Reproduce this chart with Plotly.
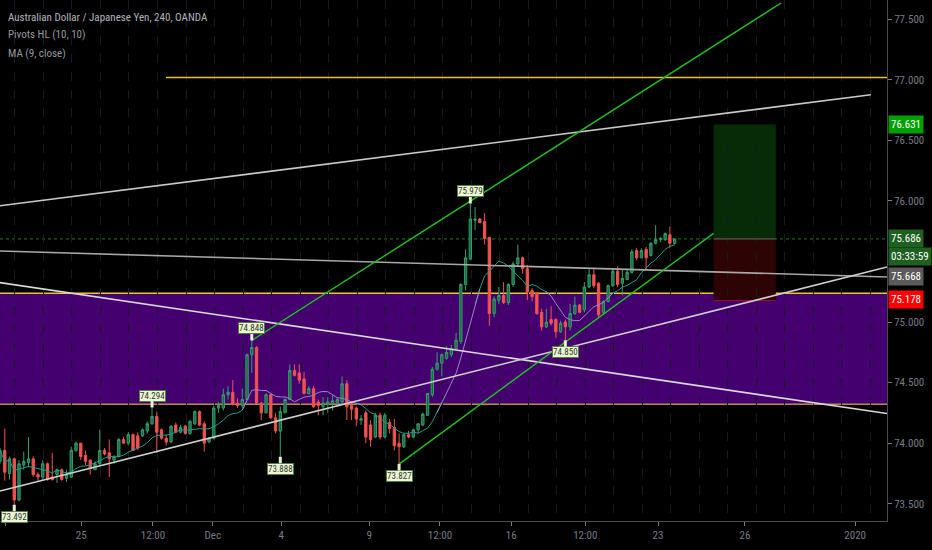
import plotly.graph_objects as go
import pandas as pd

# ---------------- data (4h bars, AUD/JPY) ----------------
OPEN = [73.85,73.94,73.75,73.87,73.53,73.82,73.84,73.87,73.74,73.72,73.83,73.72,73.74,73.78,73.71,73.72,73.94,74.00,73.90,73.86,
        73.78,73.83,73.94,73.92,73.86,73.89,74.03,74.00,74.07,74.06,74.06,74.10,74.16,74.22,74.11,74.04,74.01,74.15,74.09,74.14,
        74.08,74.16,74.26,74.16,74.01,74.04,74.29,74.29,74.40,74.42,74.33,74.31,74.36,74.73,74.79,74.33,74.25,74.40,74.21,74.10,
        74.25,74.36,74.60,74.58,74.53,74.41,74.45,74.34,74.30,74.32,74.33,74.33,74.34,74.49,74.31,74.29,74.19,74.25,74.15,74.05,
        74.23,74.05,74.17,74.13,74.00,73.97,74.07,74.05,74.11,74.15,74.23,74.40,74.61,74.66,74.70,74.73,74.78,74.84,75.31,75.52,
        75.84,75.85,75.83,75.70,75.07,75.18,75.22,75.16,75.31,75.48,75.53,75.44,75.26,75.24,75.08,74.96,75.02,75.02,74.92,75.00,
        74.96,75.07,75.14,75.10,75.29,75.39,75.32,75.08,75.17,75.30,75.42,75.32,75.35,75.41,75.59,75.53,75.60,75.55,75.65,75.68,
        75.68,75.72,75.65]
HIGH = [73.96,74.12,73.89,73.88,73.86,73.93,74.05,73.89,73.76,73.86,73.84,73.92,73.79,73.79,73.78,73.97,74.01,74.00,73.94,73.86,
        73.85,74.11,73.96,74.03,73.90,74.04,74.05,74.09,74.08,74.09,74.12,74.18,74.294,74.26,74.12,74.07,74.15,74.17,74.15,74.15,
        74.19,74.27,74.27,74.18,74.05,74.31,74.34,74.45,74.47,74.52,74.37,74.45,74.74,74.848,74.80,74.34,74.41,74.41,74.25,74.30,
        74.37,74.65,74.65,74.65,74.59,74.47,74.47,74.36,74.38,74.38,74.40,74.38,74.55,74.52,74.33,74.30,74.23,74.27,74.19,74.25,
        74.25,74.25,74.20,74.20,74.08,74.08,74.10,74.12,74.16,74.25,74.41,74.63,74.75,74.74,74.80,74.81,74.91,75.32,75.60,75.979,
        75.95,75.86,75.90,75.70,75.21,75.29,75.33,75.32,75.50,75.64,75.54,75.47,75.28,75.25,75.11,75.11,75.13,75.03,75.01,75.02,
        75.15,75.21,75.15,75.33,75.44,75.44,75.33,75.18,75.31,75.44,75.46,75.43,75.43,75.60,75.61,75.61,75.62,75.66,75.80,75.70,
        75.74,75.79,75.69]
LOW = [73.83,73.69,73.70,73.492,73.52,73.78,73.80,73.72,73.69,73.69,73.69,73.69,73.67,73.69,73.68,73.71,73.93,73.86,73.82,73.74,
       73.78,73.82,73.90,73.72,73.83,73.88,74.00,73.98,73.94,73.94,74.05,74.08,74.15,73.92,74.03,73.98,74.00,74.08,74.08,74.07,
       74.07,74.15,74.14,73.93,74.00,74.03,74.25,74.27,74.36,74.31,74.29,74.29,74.36,74.58,74.33,74.19,74.25,74.20,74.08,73.888,
       74.25,74.36,74.55,74.49,74.40,74.40,74.29,74.23,74.23,74.25,74.27,74.30,74.33,74.19,74.19,74.14,74.15,74.00,73.97,74.04,
       74.03,74.04,74.08,73.94,73.827,73.96,74.04,74.04,74.08,74.14,74.23,74.38,74.60,74.55,74.69,74.71,74.77,74.82,75.26,75.51,
       75.76,75.82,75.64,74.97,75.04,75.15,75.15,75.14,75.29,75.46,75.40,75.18,75.17,75.06,74.93,74.95,74.97,74.87,74.91,74.85,
       74.93,75.06,75.08,75.08,75.28,75.28,75.04,75.06,75.16,75.29,75.29,75.22,75.35,75.40,75.51,75.53,75.43,75.54,75.64,75.66,
       75.67,75.61,75.64]
CLOSE = [73.94,73.76,73.87,73.53,73.83,73.85,73.87,73.74,73.72,73.83,73.70,73.70,73.78,73.70,73.74,73.94,74.00,73.89,73.85,73.79,
         73.83,73.94,73.91,73.87,73.89,74.03,74.00,74.07,73.94,73.96,74.11,74.16,74.22,74.09,74.04,74.01,74.14,74.09,74.13,74.08,
         74.18,74.26,74.15,74.00,74.04,74.29,74.31,74.40,74.42,74.32,74.31,74.36,74.73,74.79,74.33,74.25,74.40,74.21,74.10,74.26,
         74.36,74.60,74.56,74.52,74.41,74.45,74.30,74.31,74.33,74.34,74.35,74.36,74.49,74.30,74.28,74.20,74.20,74.05,74.03,74.23,
         74.05,74.23,74.12,73.98,73.97,74.07,74.05,74.11,74.16,74.24,74.41,74.61,74.66,74.73,74.75,74.78,74.85,75.31,75.53,75.85,
         75.85,75.82,75.69,75.07,75.19,75.22,75.16,75.31,75.48,75.53,75.44,75.25,75.21,75.07,74.96,75.00,74.99,74.92,74.99,74.96,
         75.07,75.14,75.08,75.29,75.39,75.30,75.06,75.17,75.30,75.42,75.31,75.36,75.41,75.58,75.53,75.59,75.53,75.65,75.68,75.69,
         75.73,75.65,75.686]
BARS = list(range(len(CLOSE)))

XTICK_POS = [1.1, 17.1, 32.2, 44.8, 59.2, 77.7, 92.6, 107.6, 123.2, 138.5, 156.8, 180.0]
XTICK_TEXT = ["12:00", "25", "12:00", "Dec", "4", "9", "12:00", "16", "12:00", "23", "26", "2020"]
YTICKS = [73.5, 74.0, 74.5, 75.0, 76.0, 76.5, 77.0, 77.5]

PIVOT_BARS = [3, 32, 53, 59, 84, 99, 119]
PIVOT_PRICES = [73.492, 74.294, 74.848, 73.888, 73.827, 75.979, 74.850]
PIVOT_KIND = ["L", "H", "H", "L", "L", "H", "L"]

ZONE_LO, ZONE_HI = 74.32, 75.237
RESIST = 77.02
TARGET, ENTRY, STOP = 76.631, 75.686, 75.178
MA_LAST = 75.668
COUNTDOWN = "03:33:59"

# trend lines: (bar0, price0, bar1, price1)
WHITE_LINES = [(0, 75.96, 183.3, 76.877), (0, 75.586, 186.7, 75.372),
               (0, 75.325, 186.7, 74.244), (0, 73.605, 186.7, 75.454)]
GREEN_LINES = [(53, 74.848, 164.4, 77.634), (84, 73.827, 150.2, 75.732)]
POS_X = (150.2, 163.3)

X_RANGE = [0, 186.7]
Y_RANGE = [73.357, 77.659]

FONT = "Liberation Sans Narrow, Roboto Condensed, DejaVu Sans Condensed, Roboto, sans-serif"
BG = "#000000"
UP_FILL, UP_LINE = "#1a6644", "#33a06c"
DN = "#ef5350"

fig = go.Figure()

fig.add_trace(go.Candlestick(
    x=BARS, open=OPEN, high=HIGH, low=LOW, close=CLOSE,
    increasing=dict(fillcolor=UP_FILL, line=dict(color=UP_LINE, width=1)),
    decreasing=dict(fillcolor=DN, line=dict(color=DN, width=1)),
    whiskerwidth=0, hoverinfo="skip", showlegend=False))

# MA(9, close)
ma = pd.Series(CLOSE).rolling(9, min_periods=1).mean().tolist()
inside = [ZONE_LO <= v <= ZONE_HI for v in ma]
n = len(ma)
def nb(i, cond):
    return any(cond(j) for j in (i - 1, i, i + 1) if 0 <= j < n)
teal_y = [ma[i] if nb(i, lambda j: not inside[j]) else None for i in range(n)]
lil_y = [ma[i] if nb(i, lambda j: inside[j]) else None for i in range(n)]
fig.add_trace(go.Scatter(x=BARS, y=teal_y, mode="lines", line=dict(color="#1f9e90", width=1),
                         hoverinfo="skip", showlegend=False, connectgaps=False))
fig.add_trace(go.Scatter(x=BARS, y=lil_y, mode="lines", line=dict(color="#9a86c4", width=1),
                         hoverinfo="skip", showlegend=False, connectgaps=False))

shapes = []
# zone
shapes.append(dict(type="rect", xref="paper", yref="y", x0=0, x1=1, y0=ZONE_LO, y1=ZONE_HI,
                   fillcolor="#44006f", line=dict(width=0), layer="below"))
shapes.append(dict(type="line", xref="paper", yref="y", x0=0, x1=1, y0=ZONE_HI, y1=ZONE_HI,
                   line=dict(color="#e8c23a", width=1.5), layer="below"))
shapes.append(dict(type="line", xref="paper", yref="y", x0=0, x1=1, y0=ZONE_LO, y1=ZONE_LO,
                   line=dict(color="#b98a4e", width=1.5), layer="below"))
# resistance
shapes.append(dict(type="line", xref="x", yref="y", x0=166 / 4.75, x1=X_RANGE[1], y0=RESIST, y1=RESIST,
                   line=dict(color="#f0c419", width=1.5)))
# current price dotted
shapes.append(dict(type="line", xref="paper", yref="y", x0=0, x1=1, y0=ENTRY, y1=ENTRY,
                   line=dict(color="#1f7a1f", width=1, dash="dot"), layer="below"))
# position tool
shapes.append(dict(type="rect", xref="x", yref="y", x0=POS_X[0], x1=POS_X[1], y0=ENTRY, y1=TARGET,
                   fillcolor="#072a07", line=dict(width=0), layer="below"))
shapes.append(dict(type="rect", xref="x", yref="y", x0=POS_X[0], x1=POS_X[1], y0=STOP, y1=ENTRY,
                   fillcolor="#2e0303", line=dict(width=0), layer="below"))
shapes.append(dict(type="line", xref="x", yref="y", x0=POS_X[0], x1=POS_X[1], y0=ENTRY, y1=ENTRY,
                   line=dict(color="#6a6a6a", width=1)))
shapes.append(dict(type="line", xref="x", yref="y", x0=POS_X[0], x1=POS_X[1], y0=STOP, y1=STOP,
                   line=dict(color="#a01030", width=1)))
for (a0, p0, a1, p1), col in zip(WHITE_LINES, ["#c8c8c8", "#a8a8a8", "#d8d8d8", "#d0d0d0"]):
    shapes.append(dict(type="line", xref="x", yref="y", x0=a0, y0=p0, x1=a1, y1=p1,
                       line=dict(color=col, width=1.6)))
for a0, p0, a1, p1 in GREEN_LINES:
    shapes.append(dict(type="line", xref="x", yref="y", x0=a0, y0=p0, x1=a1, y1=p1,
                       line=dict(color="#22c322", width=1.4)))

ann = []
# title / legend text
for txt, ypx, col in [("Australian Dollar / Japanese Yen, 240, OANDA", 17, "#b2b5be"),
                      ("Pivots HL (10, 10)", 35, "#9598a1"),
                      ("MA (9, close)", 53, "#9598a1")]:
    ann.append(dict(text=txt, xref="paper", yref="paper", x=6 / 887, y=1 - ypx / 521,
                    xanchor="left", yanchor="middle", showarrow=False,
                    font=dict(family=FONT, size=11, color=col)))
# pivot labels
for b, p, k in zip(PIVOT_BARS, PIVOT_PRICES, PIVOT_KIND):
    ann.append(dict(text=f"{p:.3f}", x=b, y=p, xref="x", yref="y", showarrow=True,
                    ax=0, ay=-12 if k == "H" else 12, arrowhead=0, arrowwidth=3,
                    arrowcolor="#e6efcf", bgcolor="#eef5d8", bordercolor="#4f7f3a",
                    borderwidth=1, borderpad=0,
                    font=dict(family=FONT, size=9, color="#2a3a20")))
# right scale labels
for txt, yv, bg in [(f"{TARGET:.3f}", TARGET, "#00a000"),
                    (f"{ENTRY:.3f}", 75.691, "#1f5f1f"),
                    (COUNTDOWN, 75.537, "#1f5f1f"),
                    (f"{MA_LAST:.3f}", 75.38, "#5a5a5a"),
                    (f"{STOP:.3f}", STOP + 0.006, "#ff0000")]:
    ann.append(dict(text=txt, xref="paper", yref="y", x=1, y=yv, xanchor="left", yanchor="middle",
                    xshift=1, showarrow=False, bgcolor=bg, borderpad=2,
                    font=dict(family=FONT, size=11, color="#ffffff")))

fig.update_layout(
    width=932, height=550, margin=dict(l=0, r=45, t=0, b=29),
    paper_bgcolor=BG, plot_bgcolor=BG, showlegend=False,
    font=dict(family=FONT, size=11, color="#787b86"),
    shapes=shapes, annotations=ann,
    xaxis=dict(range=X_RANGE, rangeslider=dict(visible=False), showgrid=False, zeroline=False,
               tickmode="array", tickvals=XTICK_POS, ticktext=XTICK_TEXT,
               ticks="outside", ticklen=4, tickcolor="#787b86",
               showline=True, linecolor="#4a4a4a", linewidth=1,
               tickfont=dict(family=FONT, size=11, color="#787b86"),
               minor=dict(showgrid=True, tick0=3.15, dtick=6, gridcolor="#161a24",
                          griddash="dash", gridwidth=1)),
    yaxis=dict(range=Y_RANGE, side="right", showgrid=False, zeroline=False,
               tickmode="array", tickvals=YTICKS, ticktext=[f"{v:.3f}" for v in YTICKS],
               ticks="outside", ticklen=4, tickcolor="#787b86",
               showline=True, linecolor="#4a4a4a", linewidth=1,
               tickfont=dict(family=FONT, size=11, color="#787b86")),
)

fig.write_html("out.html", config={"displayModeBar": False, "displaylogo": False},
               post_script="document.body.style.margin='0';document.body.style.overflow='hidden';")
